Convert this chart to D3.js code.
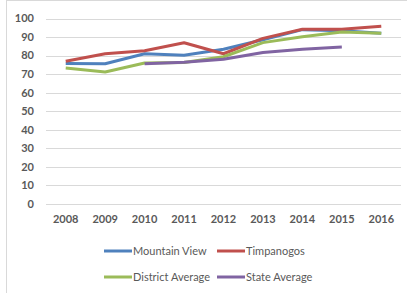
<!DOCTYPE html>
<html><head><meta charset="utf-8">
<script src="https://cdn.jsdelivr.net/npm/d3@7"></script>
<style>body{margin:0;background:#fff}svg{display:block}</style>
</head><body>
<script>
const years = ["2008","2009","2010","2011","2012","2013","2014","2015","2016"];
const yTicks = [0,10,20,30,40,50,60,70,80,90,100];
const mountainView = [75.8, 75.6, 81, 80.2, 83.4, 88.5, 94, 93.4, 92];
const timpanogos   = [77, 81, 82.6, 86.9, 81, 89.3, 94.2, 94.2, 95.8];
const districtAvg  = [73.3, 71.2, 76, 76.3, 79.4, 87, 90.2, 92.7, 92];
const stateAvg     = [null, null, 75.6, 76.4, 78, 81.7, 83.4, 84.6, null];
const seriesNames = ["Mountain View","Timpanogos","District Average","State Average"];
const seriesColors = ["#4F81BD","#C0504D","#9BBB59","#8064A2"];
const seriesData = [mountainView, timpanogos, districtAvg, stateAvg];

const W=407,H=293;
const svg=d3.select("body").append("svg").attr("width",W).attr("height",H);
svg.append("rect").attr("x",6.5).attr("y",0.5).attr("width",W+10).attr("height",H+10).attr("fill","#fff").attr("stroke","#d9d9d9");

const x=d3.scaleBand().domain(years).range([46,401]);
const y=d3.scaleLinear().domain([0,100]).range([204,18.5]);
const font="Lato, 'Open Sans', sans-serif";

const g=svg.append("g");
g.selectAll("line.grid").data(yTicks).join("line")
 .attr("x1",46).attr("x2",401).attr("y1",d=>Math.round(y(d))+0.5).attr("y2",d=>Math.round(y(d))+0.5)
 .attr("stroke","#d9d9d9").attr("stroke-width",1);
g.selectAll("text.yt").data(yTicks).join("text")
 .attr("x",34).attr("y",d=>y(d)).attr("dy","0.35em").attr("text-anchor","end")
 .attr("font-family",font).attr("font-weight","bold").attr("font-size",11).attr("fill","#595959").text(d=>d);
g.selectAll("text.xt").data(years).join("text")
 .attr("x",d=>x(d)+x.bandwidth()/2).attr("y",219).attr("dy","0.35em").attr("text-anchor","middle")
 .attr("font-family",font).attr("font-weight","bold").attr("font-size",11).attr("fill","#595959").text(d=>d);

const line=d3.line().defined(d=>d.v!=null).x(d=>x(d.k)+x.bandwidth()/2).y(d=>y(d.v));
seriesData.forEach((s,i)=>{
  g.append("path").datum(years.map((k,j)=>({k,v:s[j]})))
   .attr("d",line).attr("fill","none").attr("stroke",seriesColors[i]).attr("stroke-width",3)
   .attr("stroke-linejoin","round");
});

const legPos=[[104,251],[217,251],[104,277],[217,277]];
seriesNames.forEach((n,i)=>{
  const [lx,ly]=legPos[i];
  svg.append("line").attr("x1",lx).attr("x2",lx+28).attr("y1",ly).attr("y2",ly)
   .attr("stroke",seriesColors[i]).attr("stroke-width",3);
  svg.append("text").attr("x",lx+29).attr("y",ly).attr("dy","0.35em")
   .attr("font-family",font).attr("font-size",11).attr("fill","#595959").text(n);
});
</script>
</body></html>
